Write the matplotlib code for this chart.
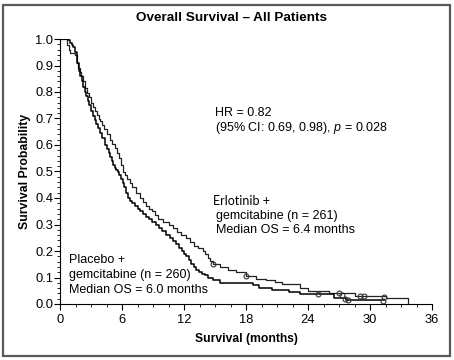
import matplotlib
matplotlib.use('Agg')
import matplotlib.pyplot as plt
from matplotlib.ticker import MultipleLocator
from matplotlib.patches import Rectangle

plt.rcParams['font.family'] = ['Liberation Sans', 'DejaVu Sans']
plt.rcParams['mathtext.fontset'] = 'custom'
plt.rcParams['mathtext.it'] = 'Liberation Sans:italic'
plt.rcParams['mathtext.rm'] = 'Liberation Sans'

# Kaplan-Meier steps (months, survival)
erl_t = [0, 0.65, 0.85, 1.0, 1.45, 1.6, 1.75, 1.9, 2.05, 2.2, 2.4, 2.6, 2.8, 3.0, 3.2, 3.4, 3.6,
         3.75, 3.9, 4.1, 4.3, 4.55, 4.8, 5.05, 5.3, 5.5, 5.7, 5.9, 6.1, 6.3, 6.5, 6.75, 7.0, 7.35,
         7.7, 8.0, 8.3, 8.6, 8.9, 9.2, 9.5, 10.0, 10.5, 10.9, 11.3, 11.75, 12.2, 12.6, 13.0, 13.4,
         13.8, 14.05, 14.3, 14.55, 14.8, 15.5, 16.3, 17.0, 18.0, 19.0, 19.9, 20.8, 21.5, 23.2,
         24.0, 26.0, 28.5, 31.5, 33.7]
erl_s = [1.0, 0.977, 0.96, 0.947, 0.94, 0.91, 0.89, 0.875, 0.86, 0.84, 0.815, 0.795, 0.78,
         0.76, 0.745, 0.73, 0.715, 0.70, 0.69, 0.675, 0.66, 0.64, 0.62, 0.605, 0.59, 0.57, 0.55,
         0.525, 0.50, 0.485, 0.47, 0.455, 0.44, 0.42, 0.40, 0.385, 0.37, 0.36, 0.35, 0.335, 0.32,
         0.31, 0.30, 0.285, 0.27, 0.26, 0.25, 0.235, 0.22, 0.21, 0.20, 0.19, 0.175, 0.162, 0.15,
         0.14, 0.13, 0.12, 0.105, 0.095, 0.09, 0.082, 0.075, 0.06, 0.05, 0.04, 0.03, 0.022, 0.0]

pla_t = [0, 0.8, 1.0, 1.15, 1.3, 1.45, 1.6, 1.8, 1.95, 2.1, 2.25, 2.4, 2.55, 2.7, 2.85, 3.0, 3.2,
         3.35, 3.5, 3.7, 3.9, 4.1, 4.35, 4.5, 4.7, 4.85, 5.0, 5.15, 5.3, 5.45, 5.6, 5.75, 5.9,
         6.05, 6.2, 6.4, 6.6, 6.8, 7.0, 7.25, 7.5, 7.75, 8.0, 8.3, 8.6, 8.9, 9.3, 9.6, 9.9,
         10.25, 10.6, 10.9, 11.2, 11.5, 11.8, 12.0, 12.2, 12.45, 12.7, 12.95, 13.2, 13.45, 13.7,
         14.0, 14.3, 14.8, 15.5, 18.7, 19.3, 20.5, 22.2, 23.2, 26.5, 27.7, 31.4]
pla_s = [1.0, 0.995, 0.985, 0.978, 0.97, 0.95, 0.91, 0.88, 0.86, 0.84, 0.82, 0.80, 0.785, 0.765,
         0.75, 0.73, 0.71, 0.695, 0.68, 0.665, 0.645, 0.625, 0.60, 0.585, 0.57, 0.555, 0.54,
         0.525, 0.515, 0.505, 0.50, 0.485, 0.47, 0.455, 0.44, 0.42, 0.40, 0.39, 0.38, 0.37, 0.36,
         0.35, 0.34, 0.33, 0.32, 0.31, 0.30, 0.288, 0.275, 0.262, 0.25, 0.238, 0.225, 0.212,
         0.20, 0.19, 0.18, 0.165, 0.15, 0.14, 0.13, 0.122, 0.115, 0.108, 0.10, 0.09, 0.078,
         0.07, 0.06, 0.052, 0.046, 0.036, 0.022, 0.015, 0.015]

erl_cens_t = [14.8, 18.0, 27.0, 27.3, 29.0, 29.4, 31.4]
erl_cens_s = [0.15, 0.105, 0.04, 0.035, 0.03, 0.03, 0.025]
pla_cens_t = [25.0, 27.6, 27.9, 31.3]
pla_cens_s = [0.036, 0.02, 0.015, 0.012]

fig = plt.figure(figsize=(4.54, 3.6), dpi=100)
ax = fig.add_axes([60 / 454, 56 / 360, 372 / 454, 265 / 360])

ax.step(erl_t, erl_s, where='post', color='#222222', lw=0.9)
ax.step(pla_t, pla_s, where='post', color='black', lw=1.1)
ax.plot(erl_cens_t, erl_cens_s, 'o', mfc='none', mec='#333333', ms=3.5, mew=0.8)
ax.plot(pla_cens_t, pla_cens_s, 'o', mfc='none', mec='#333333', ms=3.5, mew=0.8)

ax.set_xlim(0, 36)
ax.set_ylim(0, 1.0)
ax.xaxis.set_major_locator(MultipleLocator(6))
ax.xaxis.set_minor_locator(MultipleLocator(1.5))
ax.yaxis.set_major_locator(MultipleLocator(0.1))
ax.yaxis.set_minor_locator(MultipleLocator(0.02))
ax.yaxis.set_major_formatter(lambda v, p: f'{v:.1f}')
ax.tick_params(which='major', length=4, width=0.8, labelsize=9.3, pad=1)
ax.tick_params(axis='x', which='major', pad=3)
ax.tick_params(which='minor', length=2, width=0.6)
for s in ['top', 'right']:
    ax.spines[s].set_visible(False)

ax.set_xlabel('Survival (months)', fontsize=8.7, fontweight='bold', labelpad=5)
ax.set_ylabel('Survival Probability', fontsize=8.8, fontweight='bold', labelpad=3)

fig.text(232 / 454, 1 - 18 / 360, 'Overall Survival – All Patients', ha='center', va='center',
         fontsize=9.7, fontweight='bold')

ax.text(15.0, 0.72, 'HR = 0.82', fontsize=9, va='center')
ax.text(15.0, 0.665, '(95% CI: 0.69, 0.98), $\\it{p}$ = 0.028', fontsize=9, va='center')

ax.text(14.8, 0.39, 'Erlotinib +', fontsize=9, va='center', family=['Lato', 'DejaVu Sans'])
ax.text(15.1, 0.307, 'gemcitabine (n = 261)\nMedian OS = 6.4 months', fontsize=9, va='center',
        linespacing=1.25)

ax.text(0.9, 0.11, 'Placebo +\ngemcitabine (n = 260)\nMedian OS = 6.0 months', fontsize=9,
        va='center', linespacing=1.3)

fig.patches.append(Rectangle((3 / 454, 4 / 360), 447 / 454, 351 / 360, transform=fig.transFigure,
                             fill=False, ec='#5a5a5a', lw=1.6))

fig.savefig('out.png', dpi=100)
